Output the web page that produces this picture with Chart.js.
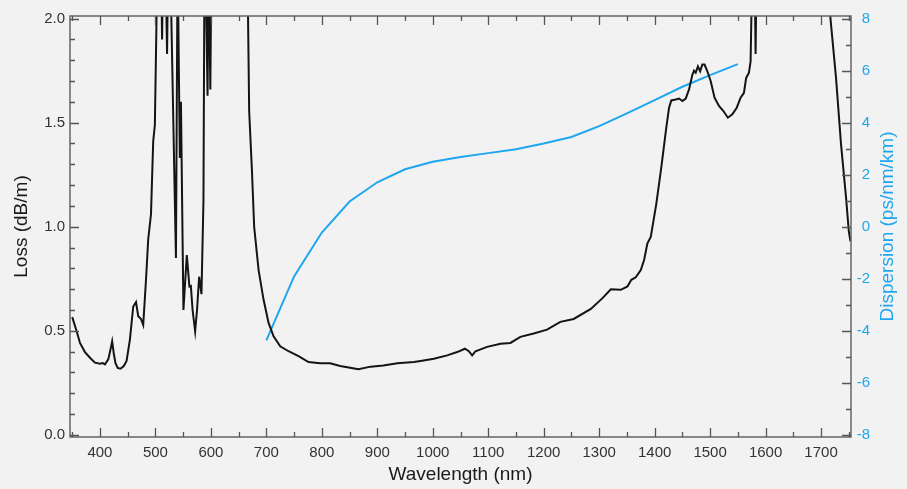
<!DOCTYPE html>
<html>
<head>
<meta charset="utf-8">
<title>Loss and dispersion</title>
<script src="https://cdn.jsdelivr.net/npm/chart.js@4"></script>
<style>
  html, body { margin: 0; padding: 0; background: #f2f2f2; }
  canvas { display: block; }
</style>
</head>
<body>
<canvas id="chart" width="907" height="489"></canvas>
<script>
// loss curve (black)
const lossWavelength = [
  350, 358, 364, 373, 382, 391, 400, 405, 409, 415, 419, 422, 425, 428, 432, 437,
  443, 448, 454, 460, 465, 469, 474, 478, 483, 487, 492, 496, 499, 502, 505, 510,
  512, 514, 518, 521, 523, 528, 537, 540, 544, 546, 550.5, 556.6, 561.3, 563.9,
  567, 571.6, 575, 578.8, 583, 586.6, 588, 590, 594, 596, 599, 601, 665, 667,
  669, 674, 678, 686, 695, 704, 713, 725, 740, 758, 776, 797, 815, 833, 851, 866,
  888, 911, 936, 966, 978, 1002, 1026, 1044, 1058, 1065, 1071, 1077, 1098, 1122,
  1140, 1158, 1182, 1206, 1230, 1254, 1285, 1306, 1321, 1339, 1351, 1358, 1366,
  1375, 1381, 1387, 1393, 1403, 1412, 1421, 1426, 1430, 1438, 1444, 1450, 1456,
  1462, 1468, 1471, 1474, 1478, 1482, 1486, 1490, 1495, 1501, 1508, 1516, 1524,
  1532, 1540, 1548, 1555, 1561, 1565, 1570, 1573, 1575, 1578, 1580, 1582, 1584,
  1714, 1717, 1727, 1736, 1745, 1750, 1753
];
const lossValues = [
  0.566, 0.498, 0.442, 0.398, 0.371, 0.347, 0.342, 0.345, 0.339, 0.363, 0.41, 0.45,
  0.39, 0.345, 0.322, 0.318, 0.331, 0.355, 0.458, 0.617, 0.638, 0.57, 0.557, 0.528,
  0.745, 0.94, 1.06, 1.41, 1.49, 2.0, 2.3, 2.3, 1.9, 2.3, 2.3, 1.83, 2.3, 2.1, 0.85,
  2.3, 1.33, 1.6, 0.6, 0.864, 0.713, 0.716, 0.6, 0.498, 0.6, 0.76, 0.676, 1.126,
  2.0, 2.3, 1.63, 2.3, 1.66, 2.3, 2.3, 2.0, 1.556, 1.27, 1.0, 0.792, 0.649, 0.538,
  0.474, 0.426, 0.402, 0.379, 0.35, 0.344, 0.344, 0.331, 0.323, 0.315, 0.328, 0.334,
  0.344, 0.35, 0.355, 0.366, 0.382, 0.398, 0.414, 0.402, 0.382, 0.402, 0.423, 0.438,
  0.442, 0.471, 0.487, 0.506, 0.543, 0.557, 0.605, 0.657, 0.7, 0.697, 0.713, 0.745,
  0.757, 0.792, 0.84, 0.92, 0.951, 1.11, 1.285, 1.476, 1.572, 1.607, 1.611, 1.616,
  1.604, 1.616, 1.66, 1.73, 1.75, 1.74, 1.77, 1.747, 1.779, 1.779, 1.747, 1.7, 1.62,
  1.58, 1.556, 1.524, 1.54, 1.572, 1.62, 1.643, 1.715, 1.74, 1.795, 2.1, 2.3, 2.3,
  1.83, 2.3, 2.3, 2.0, 1.715, 1.397, 1.142, 0.98, 0.93
];

// dispersion curve (blue)
const dispWavelength = [700, 750, 800, 850, 900, 950, 1000, 1050, 1100, 1150, 1200, 1250, 1300, 1350, 1400, 1450, 1500, 1550];
const dispValues = [-4.37, -1.91, -0.22, 0.97, 1.71, 2.21, 2.5, 2.68, 2.83, 2.98, 3.2, 3.45, 3.87, 4.36, 4.87, 5.38, 5.83, 6.25];

// tick labels
const xTickValues = [400, 500, 600, 700, 800, 900, 1000, 1100, 1200, 1300, 1400, 1500, 1600, 1700];
const lossTickValues = [0, 0.5, 1.0, 1.5, 2.0];
const dispTickValues = [-8, -6, -4, -2, 0, 2, 4, 6, 8];

const BLUE = "#1ea7ef";
const FONT = '"Liberation Sans", Arial, sans-serif';

// frame with inward ticks, like the original plot
const frameTicks = {
  id: "frameTicks",
  afterDatasetsDraw(chart) {
    const { ctx, chartArea: a, scales } = chart;
    ctx.save();
    ctx.strokeStyle = "#666";
    ctx.lineWidth = 1.5;
    ctx.strokeRect(a.left, a.top, a.right - a.left, a.bottom - a.top);

    ctx.strokeStyle = "#555";
    ctx.lineWidth = 1.3;
    ctx.beginPath();
    for (let v = 350; v <= 1750; v += 50) {
      const px = Math.round(scales.x.getPixelForValue(v)) + 0.5;
      const len = v % 100 === 0 ? 9 : 5;
      ctx.moveTo(px, a.bottom);
      ctx.lineTo(px, a.bottom - len);
      ctx.moveTo(px, a.top);
      ctx.lineTo(px, a.top + len);
    }
    for (let i = 0; i <= 20; i++) {
      const py = Math.round(scales.y.getPixelForValue(i / 10)) + 0.5;
      const len = i % 5 === 0 ? 9 : 5;
      ctx.moveTo(a.left, py);
      ctx.lineTo(a.left + len, py);
    }
    for (let v = -8; v <= 8; v++) {
      const py = Math.round(scales.y2.getPixelForValue(v)) + 0.5;
      const len = v % 2 === 0 ? 9 : 5;
      ctx.moveTo(a.right, py);
      ctx.lineTo(a.right - len, py);
    }
    ctx.stroke();

    // axis titles
    const cx = (a.left + a.right) / 2;
    const cy = (a.top + a.bottom) / 2;
    ctx.font = "19px " + FONT;
    ctx.textAlign = "center";
    ctx.textBaseline = "middle";
    ctx.fillStyle = "#1a1a1a";
    ctx.fillText("Wavelength (nm)", cx, 475);

    ctx.save();
    ctx.translate(22, cy);
    ctx.rotate(-Math.PI / 2);
    ctx.fillText("Loss (dB/m)", 0, 0);
    ctx.restore();

    ctx.save();
    ctx.translate(888, cy);
    ctx.rotate(-Math.PI / 2);
    ctx.fillStyle = BLUE;
    ctx.fillText("Dispersion (ps/nm/km)", 0, 0);
    ctx.restore();

    ctx.restore();
  },
};

const ctx = document.getElementById("chart").getContext("2d");

new Chart(ctx, {
  type: "line",
  data: {
    datasets: [
      {
        label: "Loss",
        data: lossWavelength.map((w, i) => ({ x: w, y: lossValues[i] })),
        borderColor: "#141414",
        borderWidth: 2,
        pointRadius: 0,
        tension: 0,
        yAxisID: "y",
        clip: 0,
      },
      {
        label: "Dispersion",
        data: dispWavelength.map((w, i) => ({ x: w, y: dispValues[i] })),
        borderColor: BLUE,
        borderWidth: 2,
        pointRadius: 0,
        tension: 0,
        yAxisID: "y2",
        clip: 0,
      },
    ],
  },
  options: {
    responsive: false,
    animation: false,
    devicePixelRatio: 1,
    layout: {
      // right padding leaves room for the dispersion title
      padding: { top: 16, left: 0, right: 37, bottom: 0 },
    },
    scales: {
      x: {
        type: "linear",
        min: 346,
        max: 1754,
        grid: { display: false, drawTicks: false },
        border: { display: false },
        afterBuildTicks: (scale) => {
          scale.ticks = xTickValues.map((v) => ({ value: v }));
        },
        afterFit: (scale) => {
          scale.height = 52;
        },
        ticks: {
          padding: 7,
          color: "#333",
          font: { family: FONT, size: 15 },
          maxRotation: 0,
          autoSkip: false,
          callback: (v) => String(v),
        },
      },
      y: {
        position: "left",
        min: -0.01,
        max: 2.0125,
        grid: { display: false, drawTicks: false },
        border: { display: false },
        afterBuildTicks: (scale) => {
          scale.ticks = lossTickValues.map((v) => ({ value: v }));
        },
        afterFit: (scale) => {
          scale.width = 70;
        },
        ticks: {
          padding: 5,
          color: "#333",
          font: { family: FONT, size: 15 },
          callback: (v) => Number(v).toFixed(1),
        },
      },
      y2: {
        position: "right",
        min: -8.08,
        max: 8.1,
        grid: { display: false, drawTicks: false },
        border: { display: false },
        afterBuildTicks: (scale) => {
          scale.ticks = dispTickValues.map((v) => ({ value: v }));
        },
        afterFit: (scale) => {
          scale.width = 19;
        },
        ticks: {
          padding: 6,
          crossAlign: "far",
          color: BLUE,
          font: { family: FONT, size: 15 },
          callback: (v) => String(v),
        },
      },
    },
    plugins: {
      legend: { display: false },
      tooltip: { enabled: false },
    },
  },
  plugins: [frameTicks],
});
</script>
</body>
</html>
